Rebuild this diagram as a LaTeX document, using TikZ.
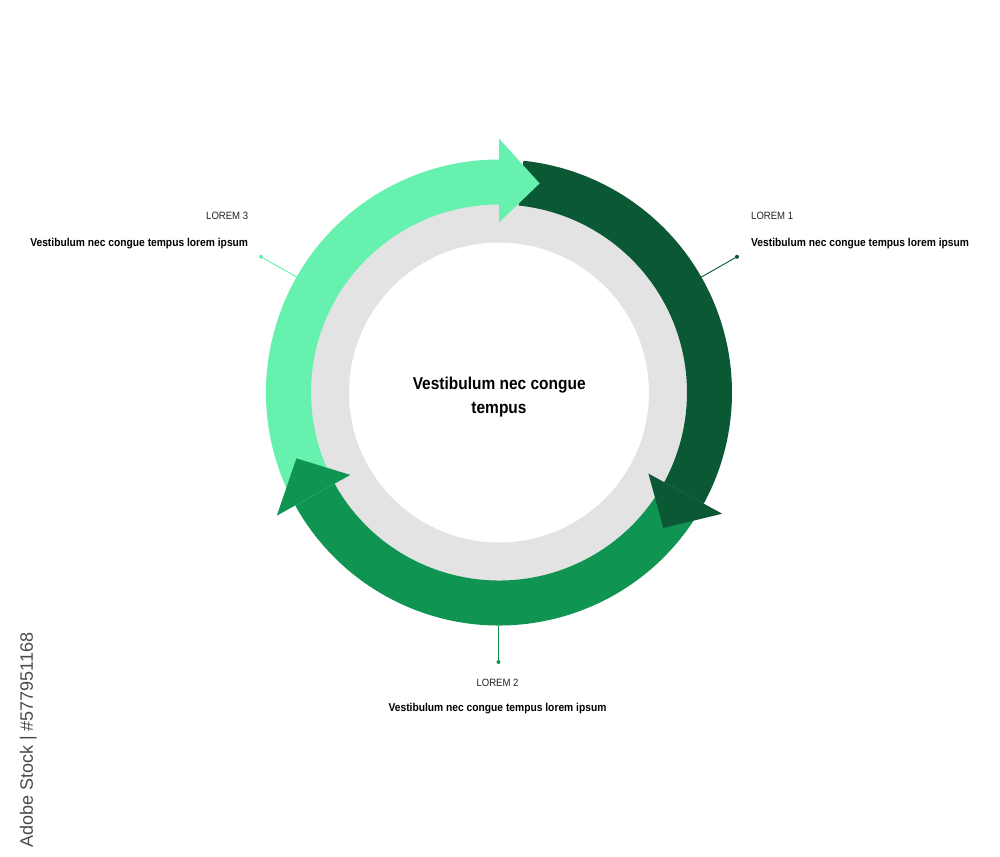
\documentclass[tikz,border=0pt]{standalone}
\usepackage{fontspec}
\setmainfont{Liberation Sans}
\newfontfamily\narfont{Liberation Sans}[FakeStretch=0.9]
\definecolor{darkg}{HTML}{0A5834}
\definecolor{midg}{HTML}{0F9452}
\definecolor{lightg}{HTML}{66F2AE}
\definecolor{ringgray}{HTML}{E3E3E3}
\definecolor{labelgray}{HTML}{222222}
\definecolor{wmgray}{HTML}{4A4A4A}
\newcommand\bandseg[3]{\fill[#1] (#2:233pt) arc[start angle=#2,end angle=#3,radius=233pt] -- (#3:188pt) arc[start angle=#3,end angle=#2,radius=188pt] -- cycle;}
\newcommand\arrowhd[2]{\fill[#1] (#2:170pt) -- (#2:254pt) -- ({#2-11}:213pt) -- cycle;}
\begin{document}
\begin{tikzpicture}[x=1pt,y=1pt,
  dotnode/.style={circle,inner sep=0pt,minimum size=4pt,fill=#1},
  leader/.style={draw=#1,line width=0.9pt},
  lab/.style={inner sep=0pt,text=labelgray,font=\narfont\fontsize{10.6}{12}\selectfont},
  desc/.style={inner sep=0pt,text=black,font=\narfont\bfseries\fontsize{11.4}{13}\selectfont},
  ctext/.style={inner sep=0pt,text=black,font=\narfont\bfseries\fontsize{17.2}{20}\selectfont}]
\useasboundingbox (-499,-463.5) rectangle (501,392.5);
% gray ring
\fill[ringgray, even odd rule] (0,0) circle[radius=190pt] (0,0) circle[radius=150pt];
% arrow bodies
\bandseg{darkg}{84}{-28.5}
\bandseg{midg}{-28.5}{-151}
\bandseg{lightg}{209}{90}
% arrow heads
\arrowhd{darkg}{-28.5}
\arrowhd{midg}{209}
\arrowhd{lightg}{90}
% leaders
\coordinate (s1) at (29.7:233pt);
\node[dotnode=darkg] (d1) at (29.7:274pt) {};
\draw[leader=darkg] (s1) -- (d1.center);
\coordinate (s3) at (150.3:233pt);
\node[dotnode=lightg] (d3) at (150.3:274pt) {};
\draw[leader=lightg] (s3) -- (d3.center);
\coordinate (s2) at (-0.5,-233);
\node[dotnode=midg] (d2) at (-0.5,-269.5) {};
\draw[leader=midg] (s2) -- (d2.center);
% labels
\node[lab,anchor=base west] (l1) at (252,172.5) {LOREM 1};
\node[desc,anchor=base west] (t1) at (252,145.8) {Vestibulum nec congue tempus lorem ipsum};
\node[lab,anchor=base east] (l3) at (-250.7,172.5) {LOREM 3};
\node[desc,anchor=base east] (t3) at (-250.7,145.8) {Vestibulum nec congue tempus lorem ipsum};
\node[lab,anchor=base] (l2) at (-1.5,-293.5) {LOREM 2};
\node[desc,anchor=base] (t2) at (-1.5,-319.2) {Vestibulum nec congue tempus lorem ipsum};
\node[ctext,anchor=base] (c1) at (0.2,2.5) {Vestibulum nec congue};
\node[ctext,anchor=base] (c2) at (0,-20.8) {tempus};
% side text
\node[inner sep=0pt,anchor=base west,rotate=90,text=wmgray,font=\fontsize{18}{20}\selectfont] (wm) at (-466,-455.5) {Adobe Stock | \#577951168};
\end{tikzpicture}
\end{document}
